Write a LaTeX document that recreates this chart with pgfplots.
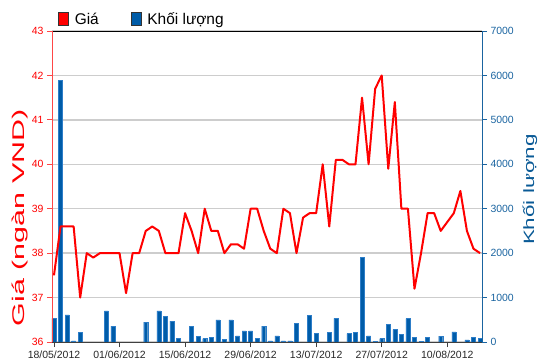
\documentclass[border=0pt]{standalone}
\usepackage{fontspec}
\setmainfont{Liberation Sans}
\usepackage{graphicx}
\usepackage{pgfplots}
\pgfplotsset{compat=1.18}
\pgfplotsset{/pgf/number format/assume math mode=true, /pgf/number format/1000 sep={}}
\definecolor{pricered}{RGB}{255,0,0}
\definecolor{axred}{RGB}{255,70,70}
\definecolor{volblue}{RGB}{0,92,168}
\definecolor{voledge}{RGB}{45,125,200}
\definecolor{rightblue}{RGB}{26,100,160}
\definecolor{labelblue}{RGB}{10,90,150}
\definecolor{gridgray}{RGB}{205,205,205}
\begin{document}
\begin{tikzpicture}
\useasboundingbox (-52bp,-22bp) rectangle (498bp,342bp);
% ---------- volume axis (right) ----------
\begin{axis}[
  at={(0,0)}, anchor=south west,
  scale only axis, width=430bp, height=311bp,
  xmin=-0.3, xmax=65.3, ymin=0, ymax=7000,
  axis y line*=right, axis x line*=top,
  xtick=\empty,
  ytick={0,1000,...,7000},
  ymajorgrids, grid style={gridgray, line width=1.3bp},
  y axis line style={rightblue, line width=0.8bp},
  x axis line style={black, line width=0.8bp},
  tick align=outside, major tick length=5bp,
  ytick style={rightblue, line width=0.8bp},
  yticklabel style={font=\fontsize{10.5}{12}\selectfont, text=rightblue, xshift=0bp},
  ylabel={\scalebox{1.5}[1]{Khối lượng}},
  every axis y label/.style={at={(axis description cs:1.1116,0.49)}, rotate=90, anchor=center, font=\fontsize{15}{18}\selectfont, text=labelblue},
]
\addplot[ybar, bar width=4bp, fill=volblue, draw=voledge, line width=0.4bp] coordinates {
(0,530) (1,5890) (2,610) (3,25) (4,220) (8,700) (9,355) (14,445) (16,700) (17,585)
(18,470) (19,80) (21,360) (22,135) (23,75) (24,110) (25,497) (26,55) (27,497) (28,140)
(29,250) (30,250) (31,80) (32,360) (33,23) (34,140) (35,23) (36,23) (37,414) (39,605)
(40,188) (42,222) (43,530) (45,188) (46,222) (47,1900) (48,140) (49,15) (50,75) (51,390)
(52,280) (53,166) (54,527) (55,110) (56,22) (57,105) (59,132) (61,226) (63,50) (64,110)
(65,75)
};
\end{axis}
% ---------- price axis (left) ----------
\begin{axis}[
  at={(0,0)}, anchor=south west,
  scale only axis, width=430bp, height=311bp,
  xmin=-0.3, xmax=65.3, ymin=36, ymax=43,
  axis y line*=left, axis x line*=bottom,
  xtick={0,10,20,30,40,50,60},
  xticklabels={18/05/2012,01/06/2012,15/06/2012,29/06/2012,13/07/2012,27/07/2012,10/08/2012},
  ytick={36,37,...,43},
  tick align=outside, major tick length=5bp,
  y axis line style={axred, line width=0.8bp},
  x axis line style={black!75, line width=0.8bp},
  ytick style={axred, line width=0.8bp},
  xtick style={black!75, line width=0.8bp},
  yticklabel style={font=\fontsize{10.5}{12}\selectfont, text=pricered},
  xticklabel style={font=\fontsize{10.5}{12}\selectfont, text=black!85},
  ylabel={\scalebox{1.8}[1]{Giá (ngàn VND)}},
  every axis y label/.style={at={(axis description cs:-0.0744,0.4)}, rotate=90, anchor=center, font=\fontsize{17}{20}\selectfont, text=pricered},
  legend style={at={(axis description cs:0,1)}, anchor=south west, xshift=3bp, yshift=1bp,
    draw=none, fill=none, font=\fontsize{15.5}{17}\selectfont,
    /tikz/every odd column/.append style={column sep=4bp},
    /tikz/every even column/.append style={column sep=30bp}},
  legend columns=2, legend cell align=left,
]
\addlegendimage{legend image code/.code={\draw[fill=red, draw=black!80, line width=0.6bp] (0bp,-6.5bp) rectangle (10bp,6.5bp);}}
\addlegendentry{Giá}
\addlegendimage{legend image code/.code={\draw[fill=volblue, draw=black!80, line width=0.6bp] (0bp,-6.5bp) rectangle (10bp,6.5bp);}}
\addlegendentry{Khối lượng}
\addplot[pricered, line width=2bp, line join=round, forget plot] coordinates {
(0,37.5) (1,38.6) (2,38.6) (3,38.6) (4,37.0) (5,38.0) (6,37.9) (7,38.0) (8,38.0) (9,38.0)
(10,38.0) (11,37.1) (12,38.0) (13,38.0) (14,38.5) (15,38.6) (16,38.5) (17,38.0) (18,38.0) (19,38.0)
(20,38.9) (21,38.5) (22,38.0) (23,39.0) (24,38.5) (25,38.5) (26,38.0) (27,38.2) (28,38.2) (29,38.1)
(30,39.0) (31,39.0) (32,38.5) (33,38.1) (34,38.0) (35,39.0) (36,38.9) (37,38.0) (38,38.8) (39,38.9)
(40,38.9) (41,40.0) (42,38.6) (43,40.1) (44,40.1) (45,40.0) (46,40.0) (47,41.5) (48,40.0) (49,41.7)
(50,42.0) (51,39.9) (52,41.4) (53,39.0) (54,39.0) (55,37.2) (56,38.0) (57,38.9) (58,38.9) (59,38.5)
(60,38.7) (61,38.9) (62,39.4) (63,38.5) (64,38.1) (65,38.0)
};
\end{axis}
\end{tikzpicture}
\end{document}
